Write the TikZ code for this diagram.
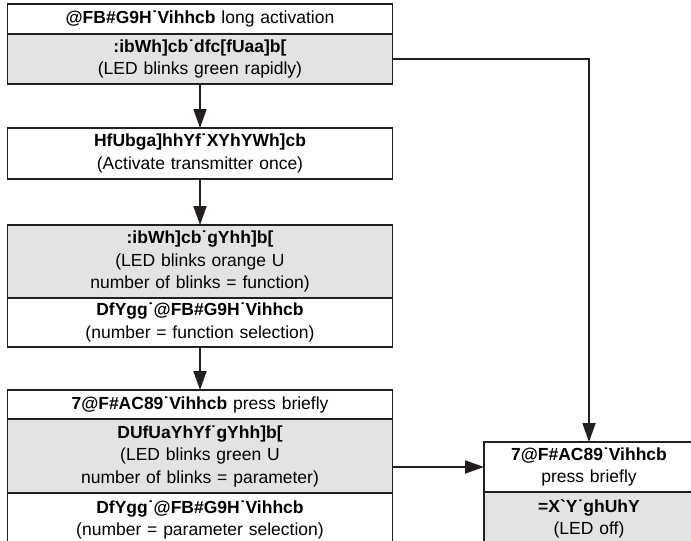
\documentclass[tikz,border=0pt]{standalone}
\usepackage{fontspec}
\setmainfont{Liberation Sans}
\usepackage{xcolor}
\usetikzlibrary{arrows.meta,positioning}
\definecolor{linea}{HTML}{231F20}
\definecolor{grisclaro}{HTML}{E2E3E5}

\begin{document}
\begin{tikzpicture}[x=1pt,y=1pt,
    caja/.style={draw=linea,line width=1.8pt,fill=white,outer sep=0pt,inner sep=0pt,
      align=center,font=\fontsize{17.5}{22.5}\selectfont},
    izq/.style={caja,minimum width=385pt,text width=375pt},
    der/.style={caja,minimum width=210pt,text width=200pt},
    sombra/.style={fill=grisclaro},
    abierta/.style={text height=20pt,text depth=42pt},
    flecha/.style={draw=linea,line width=1.8pt,-{Triangle[length=19pt,width=13pt]}}]
  \useasboundingbox (0,0) rectangle (691,-541);
  % columna izquierda
  \node[izq,anchor=north,minimum height=30pt] (a1) at (200,-4) {\textbf{@FB\#G9H˙Vihhcb} long activation};
  \node[izq,sombra,minimum height=50pt,below=0pt of a1] (a2) {\textbf{:ibWh]cb˙dfc[fUaa]b[}\\(LED blinks green rapidly)};
  \node[izq,anchor=north,minimum height=51pt] (b) at (200,-128) {\textbf{HfUbga]hhYf˙XYhYWh]cb}\\(Activate transmitter once)};
  \node[izq,sombra,anchor=north,minimum height=73pt] (c1) at (200,-225) {\textbf{:ibWh]cb˙gYhh]b[}\\(LED blinks orange U\\number of blinks = function)};
  \node[izq,minimum height=49pt,below=0pt of c1] (c2) {\textbf{DfYgg˙@FB\#G9H˙Vihhcb}\\(number = function selection)};
  \node[izq,anchor=north,minimum height=29pt] (d1) at (200,-390) {\textbf{7@F\#AC89˙Vihhcb} press briefly};
  \node[izq,sombra,minimum height=74pt,below=0pt of d1] (d2) {\textbf{DUfUaYhYf˙gYhh]b[}\\(LED blinks green U\\number of blinks = parameter)};
  \node[izq,abierta,below=0pt of d2] (d3) {\textbf{DfYgg˙@FB\#G9H˙Vihhcb}\\(number = parameter selection)};
  % caja derecha
  \node[der,anchor=north west,minimum height=50pt] (e1) at (484,-442) {\textbf{7@F\#AC89˙Vihhcb}\\press briefly};
  \node[der,sombra,abierta,below=0pt of e1] (e2) {\textbf{=X\textasciigrave Y˙ghUhY}\\(LED off)};
  % flechas
  \foreach \desde/\hasta in {a2/b,b/c1,c2/d1}
    \draw[flecha] (\desde) -- (\hasta);
  \draw[flecha] (a2.east) -| (e1.north);
  \draw[flecha] (d2.east |- e1.west) -- (e1.west);
\end{tikzpicture}
\end{document}
